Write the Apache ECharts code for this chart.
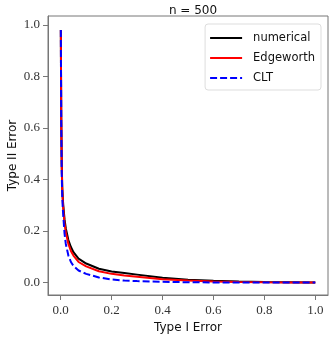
<!DOCTYPE html>
<html style="height: 100%">
<head>
<meta charset="utf-8">
</head>
<body style="height: 100%; margin: 0; background: #fff">
<div id="container" style="width: 332px; height: 339px"></div>
<script src="https://cdn.jsdelivr.net/npm/echarts@6/dist/echarts.min.js"></script>
<script>
// Type I error (x) shared by all curves
var alpha = [0.0005, 0.001, 0.002, 0.004, 0.006, 0.008, 0.01, 0.015, 0.02, 0.03, 0.04, 0.05,
             0.07, 0.1, 0.15, 0.2, 0.25, 0.3, 0.4, 0.5, 0.6, 0.7, 0.8, 0.9, 1.0];
// Type II error for each method
var numerical = [0.98, 0.85, 0.65, 0.46, 0.37, 0.33, 0.3, 0.245, 0.21, 0.165, 0.138, 0.118,
                 0.093, 0.074, 0.054, 0.043, 0.037, 0.031, 0.019, 0.011, 0.007, 0.004, 0.002, 0.001, 0.0];
var edgeworth = [0.98, 0.85, 0.64, 0.45, 0.36, 0.32, 0.285, 0.23, 0.195, 0.15, 0.123, 0.105,
                 0.08, 0.063, 0.044, 0.034, 0.028, 0.023, 0.013, 0.008, 0.004, 0.002, 0.001, 0.0005, 0.0];
var clt = [0.98, 0.84, 0.62, 0.42, 0.33, 0.29, 0.26, 0.19, 0.15, 0.105, 0.08, 0.065,
           0.047, 0.034, 0.02, 0.012, 0.008, 0.006, 0.003, 0.0015, 0.0008, 0.0004, 0.0002, 0.0001, 0.0];
var tickValues = [0, 0.2, 0.4, 0.6, 0.8, 1.0];

function pairs(ys) {
    return alpha.map(function (a, i) { return [a, ys[i]]; });
}

var frame = '#777';
var serif = 'Liberation Serif';
var sans = 'DejaVu Sans';

var myChart = echarts.init(document.getElementById('container'));

function axisBase(min, max) {
    return {
        type: 'value',
        min: min,
        max: max,
        splitLine: { show: false },
        axisLine: { show: true, onZero: false, lineStyle: { color: frame, width: 1 } },
        axisTick: { show: true, inside: false, length: 5, customValues: tickValues,
                    lineStyle: { color: frame, width: 1 } },
        axisLabel: { customValues: tickValues, fontFamily: serif, fontSize: 13, color: '#333',
                     formatter: function (v) { return v.toFixed(1); } },
        nameLocation: 'middle',
        nameMoveOverlap: false,
        nameTextStyle: { fontFamily: sans, fontSize: 12, color: '#111' }
    };
}

var xAxis = axisBase(-0.05, 1.05);
xAxis.name = 'Type I Error';
xAxis.nameGap = 27;
xAxis.axisLabel.margin = 9;

var yAxis = axisBase(-0.048, 1.034);
yAxis.name = 'Type II Error';
yAxis.nameGap = 29;
yAxis.axisLabel.margin = 8;

var option = {
    animation: false,
    title: {
        text: 'n = 500',
        left: 188,
        textAlign: 'center',
        top: 0,
        textStyle: { fontFamily: sans, fontSize: 12, fontWeight: 'normal', color: '#111' }
    },
    grid: {
        left: 48, right: 4, top: 16, bottom: 44,
        containLabel: false,
        outerBoundsMode: 'none',
        show: true, borderColor: frame, borderWidth: 1, backgroundColor: '#fff'
    },
    legend: {
        right: 11,
        top: 24,
        orient: 'vertical',
        itemWidth: 32,
        itemHeight: 10,
        itemGap: 8,
        padding: [8, 6, 6, 4],
        backgroundColor: '#fff',
        borderColor: '#ddd',
        borderWidth: 1,
        borderRadius: 3,
        itemStyle: { opacity: 0 },
        textStyle: { fontFamily: sans, fontSize: 11.5, color: '#111', padding: [0, 0, 0, 6] },
        data: ['numerical', 'Edgeworth', 'CLT']
    },
    xAxis: xAxis,
    yAxis: yAxis,
    series: [
        { name: 'numerical', type: 'line', symbol: 'none', data: pairs(numerical),
          lineStyle: { color: '#000', width: 2 }, itemStyle: { color: '#000' } },
        { name: 'Edgeworth', type: 'line', symbol: 'none', data: pairs(edgeworth),
          lineStyle: { color: '#ff0000', width: 2 }, itemStyle: { color: '#ff0000' } },
        { name: 'CLT', type: 'line', symbol: 'none', data: pairs(clt),
          lineStyle: { color: '#0000ff', width: 2, type: [7, 3] }, itemStyle: { color: '#0000ff' } }
    ]
};
myChart.setOption(option, true);
</script>
</body>
</html>
